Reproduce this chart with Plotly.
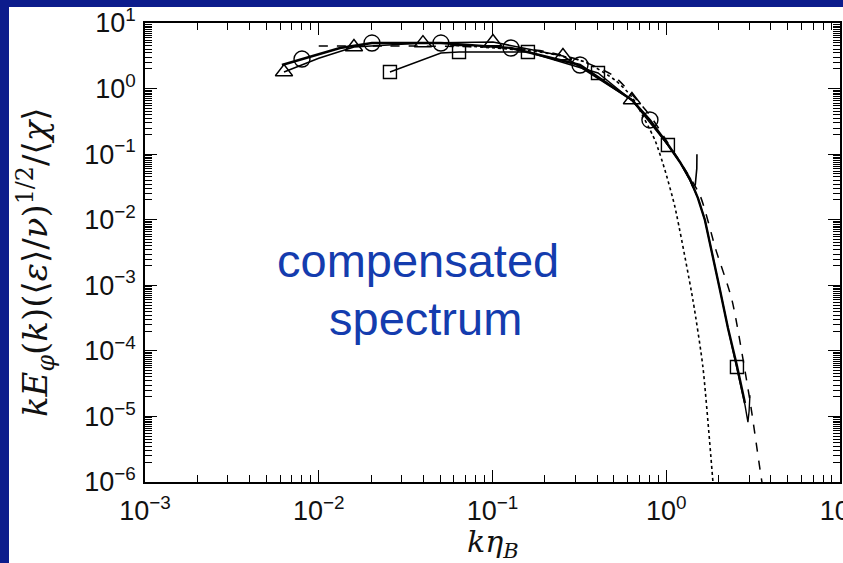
import plotly.graph_objects as go

# ---- data ----
tri_x = [0.00631, 0.01595, 0.0398, 0.1007, 0.2545, 0.635]
tri_y = [1.79, 4.31, 4.95, 5.13, 3.14, 0.669]
tri_line_x = [0.00631, 0.0100, 0.01595, 0.0398, 0.1007, 0.2545, 0.635, 0.806, 1.023, 1.199, 1.37, 1.42, 1.47, 1.50, 1.503]
tri_line_y = [1.79, 2.9, 4.31, 4.95, 5.13, 3.14, 0.669, 0.33, 0.138, 0.076, 0.040, 0.032, 0.034, 0.060, 0.100]

cir_x = [0.00801, 0.02025, 0.0505, 0.1278, 0.319, 0.806]
cir_y = [2.82, 4.95, 4.95, 4.16, 2.29, 0.332]
cir_line_x = [0.00614, 0.00801, 0.01326, 0.02025, 0.0505, 0.1278, 0.319, 0.635, 0.806, 1.023, 1.199,
              1.37, 1.523, 1.67, 1.834, 2.04, 2.267, 2.55, 2.84]
cir_line_y = [2.29, 2.82, 4.16, 4.95, 4.95, 4.16, 2.29, 0.669, 0.332, 0.14, 0.076,
              0.042, 0.0214, 0.0099, 3.22e-3, 8.5e-4, 2.23e-4, 6.0e-5, 1.6e-5]

sq_x = [0.0257, 0.0642, 0.160, 0.405, 1.023, 2.554]
sq_y = [1.79, 3.61, 3.61, 1.73, 0.138, 5.67e-5]
sq_line_x = [0.0257, 0.0505, 0.0642, 0.160, 0.405, 0.635, 1.023, 1.199, 1.37, 1.523, 1.67, 1.834, 2.04,
             2.267, 2.554, 2.84, 2.954, 3.00, 3.034]
sq_line_y = [1.79, 3.49, 3.61, 3.61, 1.73, 0.66, 0.138, 0.076, 0.040, 0.0214, 0.0099, 3.22e-3, 8.5e-4,
             2.23e-4, 5.67e-5, 1.5e-5, 8.2e-6, 1.2e-5, 2.1e-5]

dash_x = [0.0100, 0.025, 0.06, 0.12, 0.2, 0.32, 0.5, 0.8, 1.02, 1.56, 1.93, 2.39, 3.03, 3.556, 3.9]
dash_y = [4.46, 4.46, 4.4, 4.2, 3.7, 2.7, 1.55, 0.40, 0.15, 0.024, 3.5e-3, 6.0e-4, 1.78e-5, 1.0e-6, 2.5e-7]

dot_x = [0.0569, 0.1877, 0.3407, 0.507, 0.635, 0.861, 0.983, 1.123, 1.425, 1.627, 1.858, 1.933]
dot_y = [4.62, 3.61, 2.54, 1.35, 0.744, 0.164, 0.0573, 0.0156, 5.96e-4, 5.67e-5, 1.0e-6, 2.6e-7]

x_ticks = [1e-3, 1e-2, 1e-1, 1e0, 1e1]
x_labels = ["10<sup>−3</sup>", "10<sup>−2</sup>", "10<sup>−1</sup>", "10<sup>0</sup>", "10<sup>1</sup>"]
y_ticks = [1e-6, 1e-5, 1e-4, 1e-3, 1e-2, 1e-1, 1e0, 1e1]
y_labels = ["10<sup>−6</sup>", "10<sup>−5</sup>", "10<sup>−4</sup>", "10<sup>−3</sup>",
            "10<sup>−2</sup>", "10<sup>−1</sup>", "10<sup>0</sup>", "10<sup>1</sup>"]

x_minor = [k * 10.0 ** e for e in range(-3, 1) for k in range(2, 10)]
y_minor = [k / 2 * 10.0 ** e for e in range(-6, 1) for k in range(4, 20)]

fig = go.Figure()
blk = "black"
fig.add_trace(go.Scatter(x=dot_x, y=dot_y, mode="lines",
                         line=dict(color=blk, width=1.6, dash="dot", shape="spline", smoothing=0.6)))
fig.add_trace(go.Scatter(x=dash_x, y=dash_y, mode="lines",
                         line=dict(color=blk, width=1.5, dash="dash", shape="spline", smoothing=0.6)))
fig.add_trace(go.Scatter(x=sq_line_x, y=sq_line_y, mode="lines", line=dict(color=blk, width=1.4)))
fig.add_trace(go.Scatter(x=tri_line_x, y=tri_line_y, mode="lines", line=dict(color=blk, width=1.6)))
fig.add_trace(go.Scatter(x=cir_line_x, y=cir_line_y, mode="lines", line=dict(color=blk, width=2.4)))
fig.add_trace(go.Scatter(x=tri_x, y=tri_y, mode="markers",
                         marker=dict(symbol="triangle-up-open", size=15, color=blk, line=dict(width=1.4))))
fig.add_trace(go.Scatter(x=cir_x, y=cir_y, mode="markers",
                         marker=dict(symbol="circle-open", size=16, color=blk, line=dict(width=1.4))))
fig.add_trace(go.Scatter(x=sq_x, y=sq_y, mode="markers",
                         marker=dict(symbol="square-open", size=13, color=blk, line=dict(width=1.4))))

tickfont = dict(family="Liberation Sans, Arial, sans-serif", size=27, color="#111")
common = dict(type="log", showline=True, linecolor=blk, linewidth=1.5, mirror="allticks",
              ticks="inside", ticklen=12, tickwidth=1.2, tickcolor=blk, showgrid=False,
              zeroline=False, tickfont=tickfont, tickmode="array", ticklabeloverflow="allow",
              automargin=False)

fig.update_xaxes(range=[-3, 1.0004], tickvals=x_ticks, ticktext=x_labels, ticklabelstandoff=4,
                 minor=dict(ticks="inside", ticklen=7, tickwidth=1, tickcolor=blk,
                            tickmode="array", tickvals=x_minor, showgrid=False), **common)
fig.update_yaxes(range=[-6, 1], tickvals=y_ticks, ticktext=y_labels, ticklabelstandoff=2,
                 minor=dict(ticks="inside", ticklen=7, tickwidth=1, tickcolor=blk,
                            tickmode="array", tickvals=y_minor, showgrid=False), **common)

W, H = 843, 563
L, R, T, B = 145, 3, 23, 81
pw, ph = W - L - R, H - T - B

def px(xp):
    return (xp - L) / pw

def py(yp):
    return (H - B - yp) / ph

navy = "#0c1c8c"
fig.add_shape(type="rect", xref="paper", yref="paper", x0=px(0), x1=px(W), y0=py(7), y1=py(0),
              fillcolor=navy, line=dict(width=0), layer="below")
fig.add_shape(type="rect", xref="paper", yref="paper", x0=px(0), x1=px(9), y0=py(H), y1=py(0),
              fillcolor=navy, line=dict(width=0), layer="below")

serif = "DejaVu Serif, Liberation Serif, serif"
fig.add_annotation(xref="paper", yref="paper", x=px(35), y=py(262), textangle=-90,
                   xanchor="center", yanchor="middle",
                   text="<i>kE</i><sub><i>φ</i></sub>(<i>k</i>)(⟨<i>ε</i>⟩/<i>ν</i>)<sup>1/2</sup>/⟨<i>χ</i>⟩",
                   showarrow=False, font=dict(family=serif, size=34, color="#111"))
fig.add_annotation(xref="paper", yref="paper", x=px(493), y=py(543),
                   xanchor="center", yanchor="middle",
                   text="<i>kη</i><sub><i>B</i></sub>",
                   showarrow=False, font=dict(family=serif, size=30, color="#111"))
ann_font = dict(family="Liberation Sans, Arial, sans-serif", size=47, color="#143cae")
fig.add_annotation(xref="paper", yref="paper", x=px(418), y=py(260), xanchor="center", yanchor="middle",
                   text="compensated", showarrow=False, font=ann_font)
fig.add_annotation(xref="paper", yref="paper", x=px(425), y=py(318), xanchor="center", yanchor="middle",
                   text="spectrum", showarrow=False, font=ann_font)

fig.update_layout(width=W, height=H, margin=dict(l=L, r=R, t=T, b=B, autoexpand=False),
                  paper_bgcolor="white", plot_bgcolor="white", showlegend=False)

fig.write_html("out.html")
